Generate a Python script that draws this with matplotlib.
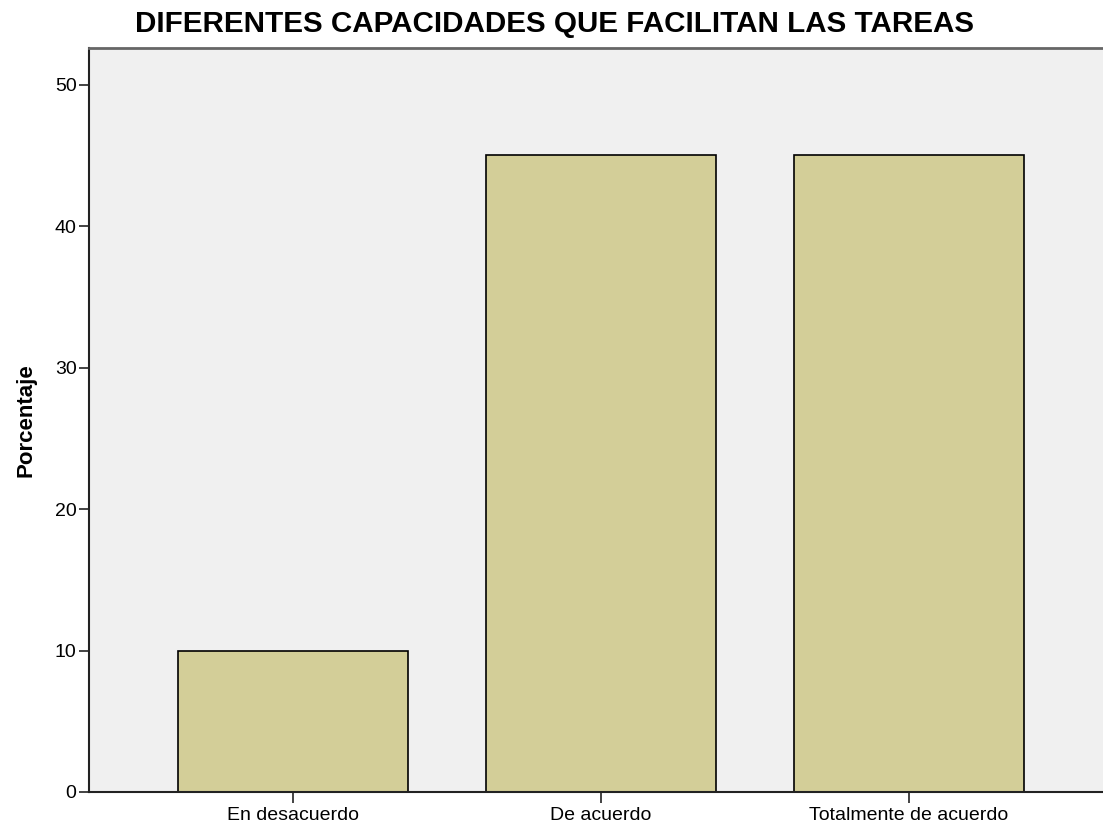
import matplotlib
matplotlib.use('Agg')
import matplotlib.pyplot as plt

# datos
categorias = ['En desacuerdo', 'De acuerdo', 'Totalmente de acuerdo']
porcentajes = [10, 45, 45]
yticks = [0, 10, 20, 30, 40, 50]

plt.rcParams['font.family'] = ['Liberation Sans', 'DejaVu Sans']

fig = plt.figure(figsize=(11.03, 8.25), dpi=100)
ax = fig.add_axes([89/1103, 33/825, 1 - 89/1103, (792-48)/825])
ax.set_facecolor('#f0f0f0')

x = range(len(categorias))
ax.bar(x, porcentajes, width=0.748, color='#d3ce98', edgecolor='black', linewidth=1.2, zorder=2)

ax.set_xlim(-0.663, 2.631)
ax.set_ylim(0, 52.6)
ax.set_xticks(list(x))
ax.set_xticklabels(categorias, fontsize=14)
ax.set_yticks(yticks)
ax.set_yticklabels([str(v) for v in yticks], fontsize=14)
ax.tick_params(axis='x', direction='out', length=8, width=1.2, color='#222222', pad=3)
ax.tick_params(axis='y', direction='out', length=7, width=1.2, color='#222222', pad=2)

for s in ['left', 'bottom']:
    ax.spines[s].set_color('#222222')
    ax.spines[s].set_linewidth(1.5)
ax.spines['top'].set_color('#666666')
ax.spines['top'].set_linewidth(2)
ax.spines['right'].set_visible(False)

ax.set_ylabel('Porcentaje', fontsize=16, fontweight='bold', labelpad=13)
fig.text(0.503, 0.971, 'DIFERENTES CAPACIDADES QUE FACILITAN LAS TAREAS',
         ha='center', va='center', fontsize=21.3, fontweight='bold')

plt.savefig('out.png', dpi=100)
